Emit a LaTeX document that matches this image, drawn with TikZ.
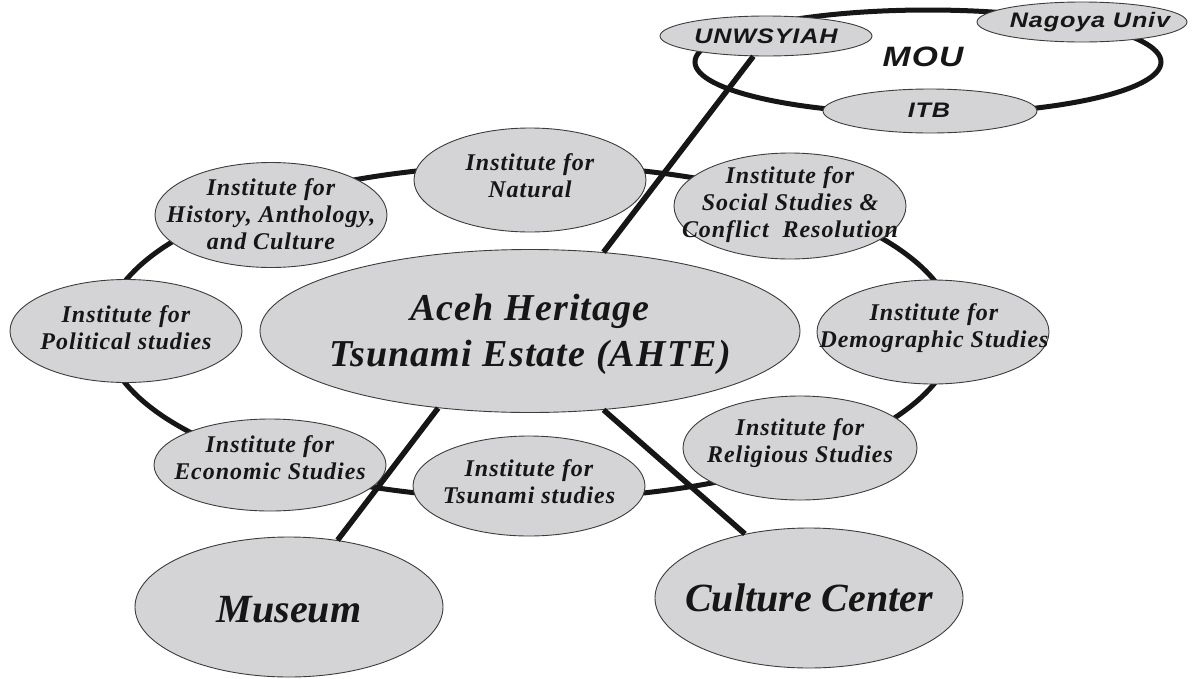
\documentclass[tikz,border=0pt]{standalone}
\usepackage{fontspec}
\usetikzlibrary{shapes.geometric}

% Fonts: Times-like bold italic for the estate, Arial-like for the MOU partners
\newfontfamily\instfont{Liberation Serif}[LetterSpace=4]
\newfontfamily\ahtefont{Liberation Serif}[LetterSpace=3]
\newfontfamily\bigfont{Liberation Serif}
\newfontfamily\moufont{Liberation Sans}[FakeStretch=1.2,LetterSpace=4]

\definecolor{bubble}{RGB}{212,212,214}
\definecolor{rim}{RGB}{60,60,60}
\definecolor{ink}{RGB}{22,22,22}

\tikzset{
  bubble/.style={ellipse, draw=rim, line width=0.9pt, fill=bubble, inner sep=0pt},
  inst/.style={bubble, minimum width=232, minimum height=104},
  partner/.style={bubble, minimum width=212, minimum height=40},
  lbl/.style={align=center, text=ink, inner sep=0pt},
  instlbl/.style={lbl, font=\instfont\bfseries\itshape\fontsize{24}{27}\selectfont},
  ahtelbl/.style={lbl, font=\ahtefont\bfseries\itshape\fontsize{38}{46}\selectfont},
  biglbl/.style={lbl, font=\bigfont\bfseries\itshape\fontsize{40}{46}\selectfont},
  partnerlbl/.style={lbl, font=\moufont\bfseries\itshape\fontsize{21}{24}\selectfont},
  ring/.style={line width=5pt, draw=ink},
  link/.style={line width=5.5pt, draw=ink}
}

\begin{document}
\begin{tikzpicture}[x=1pt, y=-1pt]
\useasboundingbox (0,0) rectangle (1192,678);

% rings joining the institutes and the MOU partners
\draw[ring] (530,332) ellipse [x radius=425, y radius=167];
\draw[ring] (928,62) ellipse [x radius=233, y radius=52];

% MOU partners
\node[partner] (unw) at (766,36) {};
\node[partnerlbl] (unwt) at (766,36) {UNWSYIAH};
\node[partner, minimum width=210] (nagoya) at (1082,22) {};
\node[partnerlbl] (nagoyat) at (1090,22) {Nagoya Univ};
\node[partner, minimum width=214, minimum height=44] (itb) at (930,111) {};
\node[partnerlbl] (itbt) at (929,110) {ITB};
\node[lbl, font=\moufont\bfseries\itshape\fontsize{28}{32}\selectfont] (mou) at (923,57) {MOU};

% central estate
\node[bubble, minimum width=540, minimum height=163] (ahte) at (530,331) {};
\node[ahtelbl] (ahtet) at (530,334) {Aceh Heritage\\Tsunami Estate (AHTE)};

% institutes around the estate
\node[inst] (natural) at (530,180) {};
\node[instlbl] (naturalt) at (530,176) {Institute for\\Natural};

\node[inst, minimum height=106] (social) at (790,206) {};
\node[instlbl] (socialt) at (790,205) {Institute for\\Social Studies \&\\Conflict\ \ Resolution};

\node[inst, minimum height=105] (history) at (271,215) {};
\node[instlbl] (historyt) at (271,214) {Institute for\\History, Anthology,\\and Culture};

\node[inst, minimum height=103] (political) at (126,331) {};
\node[instlbl] (politicalt) at (126,328) {Institute for\\Political studies};

\node[inst] (demo) at (933,332) {};
\node[instlbl] (demot) at (934,328) {Institute for\\Demographic Studies};

\node[inst, minimum height=92] (economic) at (270,465) {};
\node[instlbl] (economict) at (270,458) {Institute for\\Economic Studies};

\node[inst, minimum height=100] (tsunami) at (529,486) {};
\node[instlbl] (tsunamit) at (529,482) {Institute for\\Tsunami studies};

\node[inst, minimum width=234] (religious) at (800,448) {};
\node[instlbl] (religioust) at (800,443) {Institute for\\Religious Studies};

% museum and culture center
\node[bubble, minimum width=308, minimum height=140] (museum) at (289,607) {};
\node[biglbl] (museumt) at (289,610) {Museum};
\node[bubble, minimum width=308, minimum height=140] (culture) at (809,598) {};
\node[biglbl] (culturet) at (809,598) {Culture Center};

% links from the estate
\draw[link] (ahte.47) -- (unw.-122);
\draw[link] (ahte.-140) -- (museum.54);
\draw[link] (ahte.-47) -- (culture.135);
\end{tikzpicture}
\end{document}
